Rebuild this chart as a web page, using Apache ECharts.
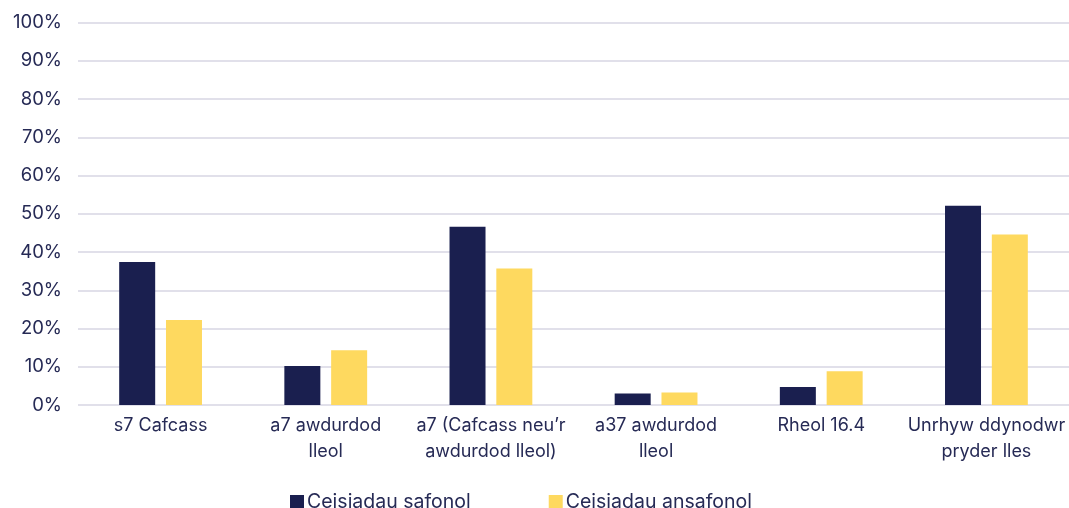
<!DOCTYPE html>
<html>
<head>
<meta charset="utf-8">
<script src="https://cdn.jsdelivr.net/npm/echarts@6/dist/echarts.min.js"></script>
<style>
html,body{margin:0;padding:0;background:#fff;}
#chart{width:1069px;height:508px;}
</style>
</head>
<body>
<div id="chart"></div>
<script>
const categories = ["s7 Cafcass", "a7 awdurdod\nlleol", "a7 (Cafcass neu’r\nawdurdod lleol)", "a37 awdurdod\nlleol", "Rheol 16.4", "Unrhyw ddynodwr\npryder lles"];
const seriesNames = ["Ceisiadau safonol", "Ceisiadau ansafonol"];
const safonol = [37.4, 10.2, 46.6, 3.0, 4.7, 52.1];
const ansafonol = [22.2, 14.3, 35.7, 3.3, 8.8, 44.6];
const yTicks = [0, 10, 20, 30, 40, 50, 60, 70, 80, 90, 100];

const textColor = '#262a55';
const font = 'Inter, "Noto Sans", sans-serif';
const chart = echarts.init(document.getElementById('chart'));
chart.setOption({
  animation: false,
  grid: {left: 78, right: -3, top: 22.5, bottom: 103, containLabel: false},
  legend: {
    top: 487, left: 285, itemWidth: 14, itemHeight: 14, itemGap: 78,
    icon: 'rect',
    textStyle: {color: textColor, fontSize: 19.5, fontFamily: font, padding: [0,0,0,-2]},
    data: seriesNames
  },
  xAxis: {
    type: 'category', data: categories,
    axisLine: {show: false}, axisTick: {show: false},
    axisLabel: {color: textColor, fontSize: 18, fontFamily: font, lineHeight: 26, margin: 8, interval: 0}
  },
  yAxis: {
    type: 'value', min: yTicks[0], max: yTicks[yTicks.length-1], interval: 10,
    axisLine: {show: false}, axisTick: {show: false},
    axisLabel: {color: textColor, fontSize: 18.5, fontFamily: font, margin: 16, formatter: v => v + '%'},
    splitLine: {lineStyle: {color: '#e1e0ea', width: 2}}
  },
  series: [
    {name: seriesNames[0], type: 'bar', data: safonol, barWidth: 36, barGap: '30%', itemStyle: {color: '#1a1f4f'}},
    {name: seriesNames[1], type: 'bar', data: ansafonol, barWidth: 36, itemStyle: {color: '#fed95f'}}
  ]
});
</script>
</body>
</html>
